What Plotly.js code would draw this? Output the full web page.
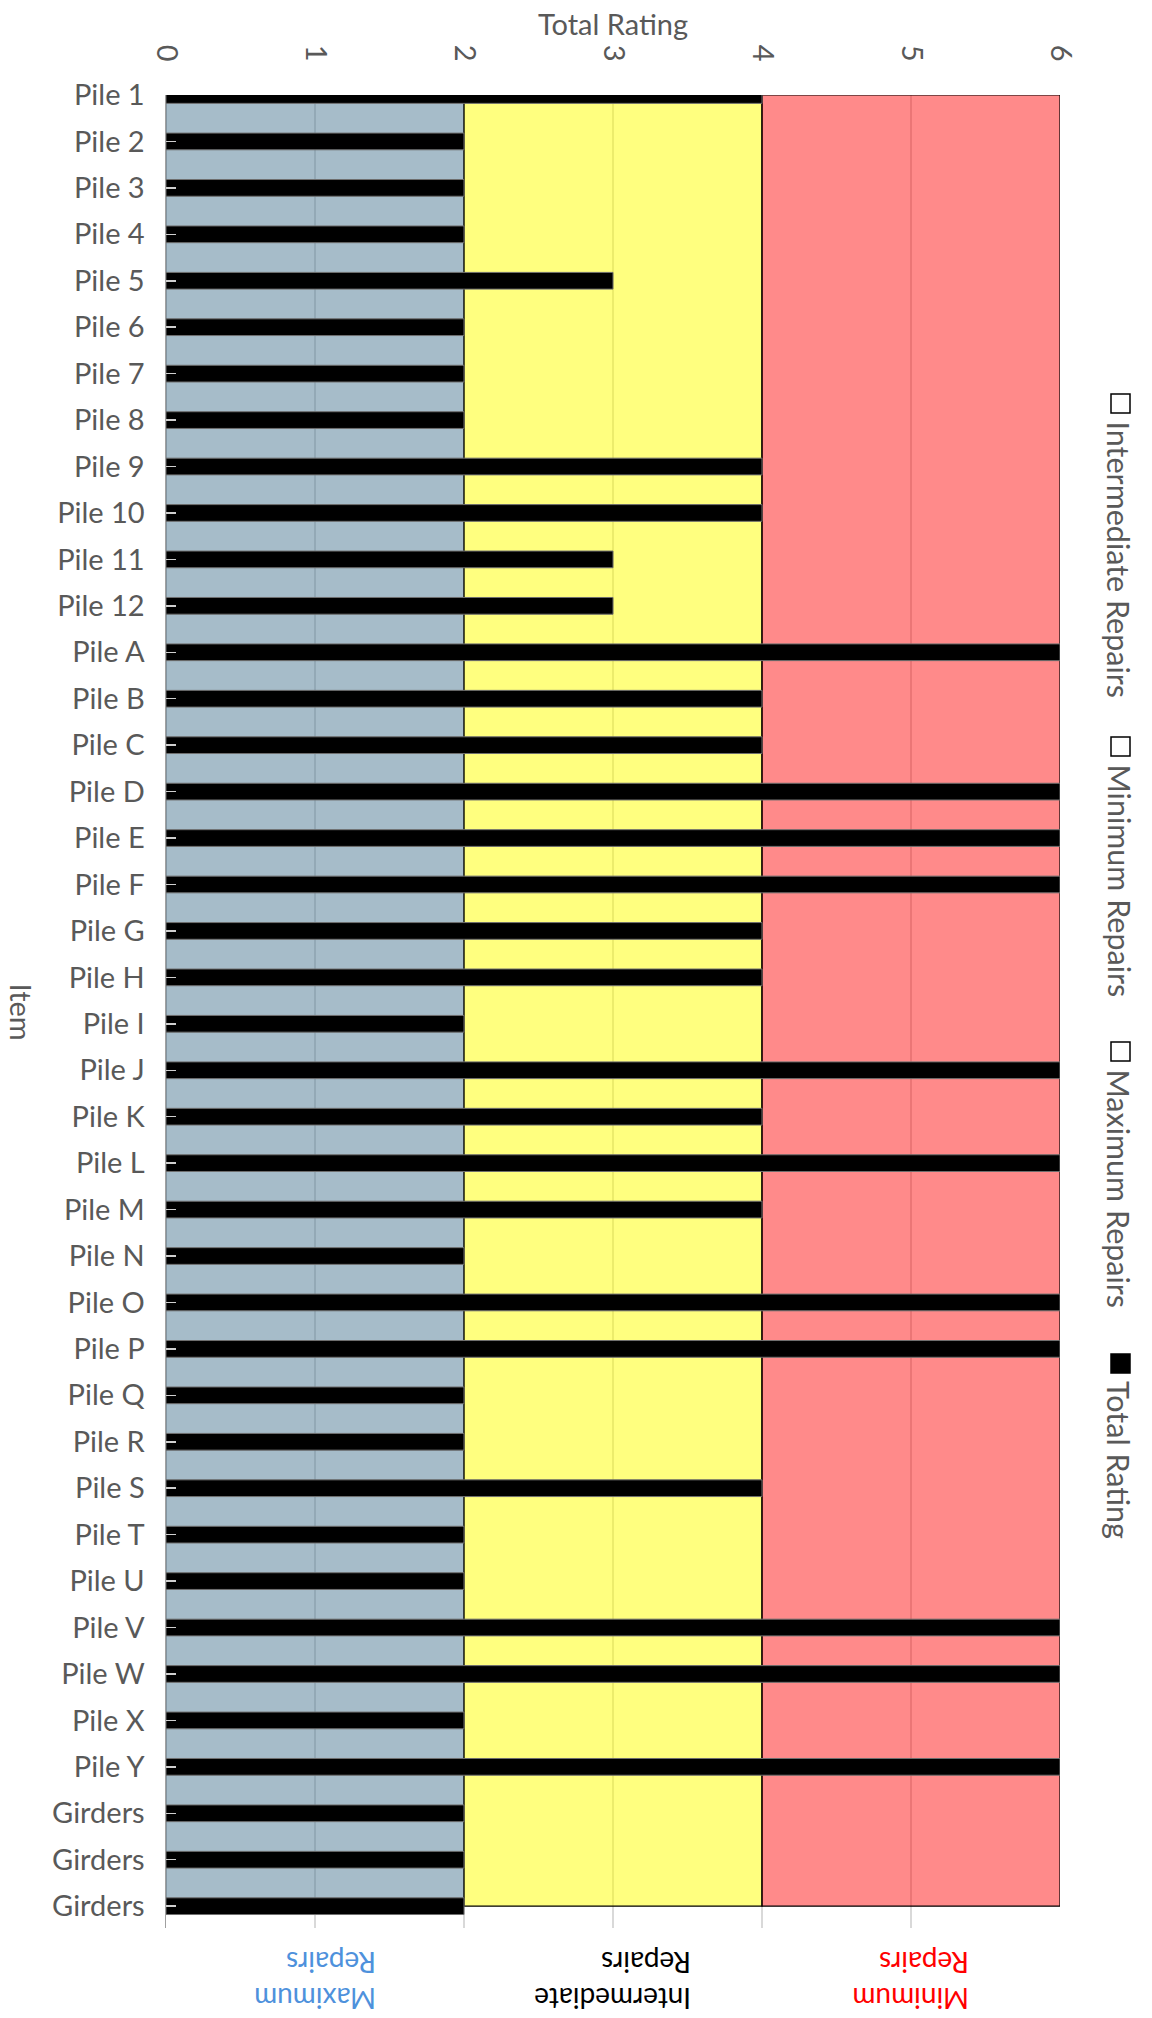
<!DOCTYPE html>
<html>
<head>
<meta charset="utf-8">
<script src="https://cdn.plot.ly/plotly-3.0.1.min.js"></script>
<style>
  html, body { margin: 0; padding: 0; background: #ffffff; }
  #chart { width: 1152px; height: 2018px; }
</style>
</head>
<body>
<div id="chart"></div>
<script>
// ---------------- data ----------------
const categories = [
  'Pile 1','Pile 2','Pile 3','Pile 4','Pile 5','Pile 6','Pile 7','Pile 8','Pile 9','Pile 10','Pile 11','Pile 12',
  'Pile A','Pile B','Pile C','Pile D','Pile E','Pile F','Pile G','Pile H','Pile I','Pile J','Pile K','Pile L',
  'Pile M','Pile N','Pile O','Pile P','Pile Q','Pile R','Pile S','Pile T','Pile U','Pile V','Pile W','Pile X',
  'Pile Y','Girders','Girders','Girders'
];
const totalRating = [
  4,2,2,2,3,2,2,2,4,4,3,3,
  6,4,4,6,6,6,4,4,2,6,4,6,
  4,2,6,6,2,2,4,2,2,6,6,2,
  6,2,2,2
];
const maximumRepairs = [
  2,2,2,2,2,2,2,2,2,2,2,2,
  2,2,2,2,2,2,2,2,2,2,2,2,
  2,2,2,2,2,2,2,2,2,2,2,2,
  2,2,2,2
];
const intermediateRepairs = [
  2,2,2,2,2,2,2,2,2,2,2,2,
  2,2,2,2,2,2,2,2,2,2,2,2,
  2,2,2,2,2,2,2,2,2,2,2,2,
  2,2,2,2
];
const minimumRepairs = [
  2,2,2,2,2,2,2,2,2,2,2,2,
  2,2,2,2,2,2,2,2,2,2,2,2,
  2,2,2,2,2,2,2,2,2,2,2,2,
  2,2,2,2
];
const bandNames = ['Maximum Repairs', 'Intermediate Repairs', 'Minimum Repairs'];
const bandLabelLines = [['Maximum', 'Repairs'], ['Intermediate', 'Repairs'], ['Minimum', 'Repairs']];
const legendOrder = ['Intermediate Repairs', 'Minimum Repairs', 'Maximum Repairs', 'Total Rating'];
const xTicks = [0, 1, 2, 3, 4, 5, 6];

// ---------------- layout constants ----------------
const W = 1152, H = 2018;
const ML = 166, MR = 92, MT = 95, MB = 90;
const PW = W - ML - MR, PH = H - MT - MB;
const pxX = px => (px - ML) / PW;
const pxY = py => (H - MB - py) / PH;
const FONT = 'Lato, "Open Sans", sans-serif';
const GREY_TEXT = '#595959';

const pos = categories.map((_, i) => i);
const yRange = [39.47, 0];

// ---------------- band polygons (stacked areas) ----------------
const bandValues = [maximumRepairs, intermediateRepairs, minimumRepairs];
const bandFill = ['rgba(77,121,147,0.5)', 'rgba(255,255,0,0.5)', 'rgba(255,11,11,0.48)'];
const bandLine = ['#6d7b84', '#000000', '#000000'];
const bandLabelColor = ['#4e91dc', '#000000', '#ff0000'];

let cum = pos.map(() => 0);
const traces = [];
const bandMid = [];
bandValues.forEach((vals, b) => {
  const lo = cum.slice();
  const hi = cum.map((c, i) => c + vals[i]);
  const xs = hi.concat(lo.slice().reverse());
  const ys = pos.concat(pos.slice().reverse());
  xs.push(hi[0]); ys.push(pos[0]);
  traces.push({
    type: 'scatter', mode: 'lines', name: bandNames[b],
    x: xs, y: ys, fill: 'toself',
    fillcolor: bandFill[b],
    line: { color: bandLine[b], width: 1.2 },
    hoverinfo: 'skip', showlegend: false
  });
  bandMid.push((lo[0] + hi[0]) / 2);
  cum = hi;
});

// ---------------- total rating bars (overlay axes so they sit on top) ----------------
traces.push({
  type: 'bar', orientation: 'h', name: 'Total Rating',
  x: totalRating, y: pos,
  xaxis: 'x2', yaxis: 'y2',
  width: 0.36,
  marker: { color: '#000000', line: { color: '#6f6f6f', width: 1 } },
  showlegend: false
});

// ---------------- annotations & shapes ----------------
const annotations = [];
const shapes = [];

// y-axis title "Item" (reads top to bottom)
annotations.push({
  text: 'Item', textangle: 90, showarrow: false,
  xref: 'paper', yref: 'paper', x: pxX(21), y: 0.5,
  xanchor: 'center', yanchor: 'middle',
  font: { family: FONT, size: 29, color: GREY_TEXT }
});

// band labels under the plot (whole block rotated 180 degrees)
bandLabelLines.forEach((lines, b) => {
  annotations.push({
    text: lines.join('<br>'), textangle: 180, align: 'left', showarrow: false,
    xref: 'x', yref: 'paper', x: bandMid[b], y: pxY(1981),
    xanchor: 'center', yanchor: 'middle',
    font: { family: FONT, size: 28, color: bandLabelColor[b] }
  });
});

// rotated legend on the right
const legendTop = [394, 737, 1042, 1354];
legendOrder.forEach((name, k) => {
  const top = legendTop[k];
  const filled = name === 'Total Rating';
  shapes.push({
    type: 'rect', xref: 'paper', yref: 'paper',
    x0: pxX(1111), x1: pxX(1130), y0: pxY(top), y1: pxY(top + 19),
    line: { color: '#000000', width: 1.5 },
    fillcolor: filled ? '#000000' : '#ffffff'
  });
  annotations.push({
    text: name, textangle: 90, showarrow: false,
    xref: 'paper', yref: 'paper', x: pxX(1119), y: pxY(top + 25),
    xanchor: 'center', yanchor: 'top',
    font: { family: FONT, size: 30.5, color: GREY_TEXT }
  });
});

const layout = {
  width: W, height: H,
  margin: { l: ML, r: MR, t: MT, b: MB, pad: 0 },
  paper_bgcolor: '#ffffff', plot_bgcolor: '#ffffff',
  font: { family: FONT, size: 29, color: GREY_TEXT },
  showlegend: false,
  barmode: 'overlay',
  xaxis: {
    side: 'top', range: [0, 6], tickmode: 'array', tickvals: xTicks,
    tickangle: 90, ticks: '', ticklabelstandoff: 28,
    showgrid: true, gridcolor: '#d9d9d9', gridwidth: 1.5,
    zeroline: false, showline: false,
    tickfont: { family: FONT, size: 29, color: GREY_TEXT },
    title: { text: 'Total Rating', standoff: 0, font: { family: FONT, size: 29, color: GREY_TEXT } }
  },
  yaxis: {
    range: yRange, tickmode: 'array', tickvals: pos, ticktext: categories,
    ticks: 'inside', ticklen: 10, tickwidth: 1.5, tickcolor: '#d0d0d0',
    ticklabelstandoff: 14,
    showgrid: false, zeroline: false,
    showline: true, linecolor: '#a0a0a0', linewidth: 1.5,
    tickfont: { family: FONT, size: 29, color: GREY_TEXT },
    layer: 'above traces'
  },
  xaxis2: { overlaying: 'x', range: [0, 6], visible: false },
  yaxis2: { overlaying: 'y', range: yRange, visible: false },
  annotations: annotations,
  shapes: shapes
};

Plotly.newPlot('chart', traces, layout, { displayModeBar: false, staticPlot: true });
</script>
</body>
</html>
